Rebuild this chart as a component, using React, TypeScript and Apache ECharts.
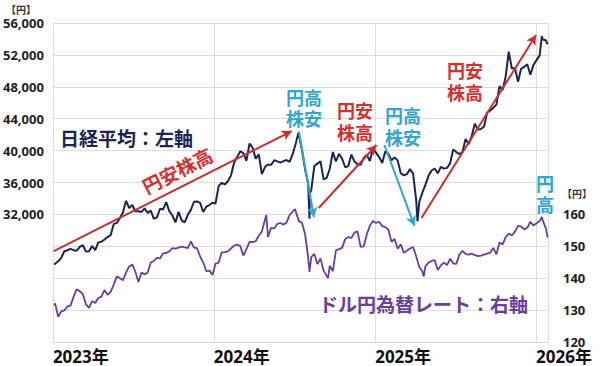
import React, { useEffect, useRef } from "react";
import * as echarts from "echarts";

// 日経平均（左軸）
const nikkeiDates: string[] = [
  "2023-01-04","2023-01-13","2023-01-20","2023-01-27","2023-02-03","2023-02-10","2023-02-17","2023-02-24",
  "2023-03-03","2023-03-10","2023-03-17","2023-03-24","2023-03-31","2023-04-07","2023-04-14","2023-04-21",
  "2023-04-28","2023-05-05","2023-05-12","2023-05-19","2023-05-26","2023-06-02","2023-06-09","2023-06-16",
  "2023-06-23","2023-06-30","2023-07-07","2023-07-14","2023-07-21","2023-07-28","2023-08-04","2023-08-11",
  "2023-08-18","2023-08-25","2023-09-01","2023-09-08","2023-09-15","2023-09-22","2023-09-29","2023-10-06",
  "2023-10-13","2023-10-20","2023-10-27","2023-11-03","2023-11-10","2023-11-17","2023-11-24","2023-12-01",
  "2023-12-08","2023-12-15","2023-12-22","2023-12-29",
  "2024-01-05","2024-01-12","2024-01-19","2024-01-26","2024-02-02","2024-02-09","2024-02-16","2024-02-22",
  "2024-03-01","2024-03-08","2024-03-15","2024-03-22","2024-03-29","2024-04-05","2024-04-12","2024-04-19",
  "2024-04-26","2024-05-02","2024-05-10","2024-05-17","2024-05-24","2024-05-31","2024-06-07","2024-06-14",
  "2024-06-21","2024-06-28","2024-07-05","2024-07-11","2024-07-19","2024-07-26","2024-08-02","2024-08-05",
  "2024-08-06","2024-08-09","2024-08-16","2024-08-23","2024-08-30","2024-09-06","2024-09-13","2024-09-20",
  "2024-09-27","2024-10-04","2024-10-11","2024-10-18","2024-10-25","2024-11-01","2024-11-08","2024-11-15",
  "2024-11-22","2024-11-29","2024-12-06","2024-12-13","2024-12-20","2024-12-27",
  "2025-01-10","2025-01-17","2025-01-24","2025-01-31","2025-02-07","2025-02-14","2025-02-21","2025-02-28",
  "2025-03-07","2025-03-14","2025-03-21","2025-03-28","2025-04-04","2025-04-07","2025-04-11","2025-04-18",
  "2025-04-25","2025-05-02","2025-05-09","2025-05-16","2025-05-23","2025-05-30","2025-06-06","2025-06-13",
  "2025-06-20","2025-06-27","2025-07-04","2025-07-11","2025-07-18","2025-07-25","2025-08-01","2025-08-08",
  "2025-08-15","2025-08-22","2025-08-29","2025-09-05","2025-09-12","2025-09-19","2025-09-26","2025-10-03",
  "2025-10-10","2025-10-17","2025-10-24","2025-10-31","2025-11-07","2025-11-14","2025-11-21","2025-11-28",
  "2025-12-05","2025-12-12","2025-12-19","2025-12-26",
  "2026-01-09","2026-01-14","2026-01-16","2026-01-23","2026-01-27",
];
const nikkeiValues: number[] = [
  25717,26119,26553,27382,27509,27670,27513,27453,
  27927,28143,27333,27385,28041,27518,28493,28564,
  28856,29157,29388,30808,30916,31524,32265,33706,
  32781,33189,32388,32391,32304,32759,32193,32473,
  31450,31624,32710,32606,33533,32402,31858,30995,
  32315,31259,30991,31950,32568,33585,33625,33432,
  32307,32970,33169,33464,
  33377,35577,35963,35751,36158,36897,38487,39098,
  39910,39688,38707,40888,40369,38992,39523,37068,
  37934,38236,38229,38787,38646,38487,38683,38814,
  38596,39583,40912,42224,40063,37667,35909,31458,
  34675,35025,38063,38364,38647,36391,36581,37723,
  39829,38635,39605,38981,37913,38053,39500,38642,
  38283,38208,39091,39470,38701,40281,
  39190,38451,39931,39572,38787,39149,38776,37155,
  36887,37053,37677,37120,33780,31136,33586,34730,
  35705,36831,37503,37753,37160,37965,37742,37834,
  38403,40150,39811,39570,39819,41456,40800,41820,
  43378,42633,42718,43019,44768,45046,45355,45770,
  48089,47582,49300,52411,50276,50377,48626,50253,
  50491,50837,49507,50750,
  51940,54341,53936,53846,53333,
];

// ドル円為替レート（右軸）
const fxDates: string[] = [
  "2023-01-04","2023-01-06","2023-01-13","2023-01-20","2023-01-27","2023-02-03","2023-02-10","2023-02-17",
  "2023-02-24","2023-03-03","2023-03-10","2023-03-17","2023-03-24","2023-03-31","2023-04-07","2023-04-14",
  "2023-04-21","2023-04-28","2023-05-05","2023-05-12","2023-05-19","2023-05-26","2023-06-02","2023-06-09",
  "2023-06-16","2023-06-23","2023-06-30","2023-07-07","2023-07-14","2023-07-21","2023-07-28","2023-08-04",
  "2023-08-11","2023-08-18","2023-08-25","2023-09-01","2023-09-08","2023-09-15","2023-09-22","2023-09-29",
  "2023-10-06","2023-10-13","2023-10-20","2023-10-27","2023-11-03","2023-11-10","2023-11-17","2023-11-24",
  "2023-12-01","2023-12-08","2023-12-15","2023-12-22","2023-12-29",
  "2024-01-05","2024-01-12","2024-01-19","2024-01-26","2024-02-02","2024-02-09","2024-02-16","2024-02-23",
  "2024-03-01","2024-03-08","2024-03-15","2024-03-22","2024-03-29","2024-04-05","2024-04-12","2024-04-19",
  "2024-04-26","2024-04-29","2024-05-03","2024-05-10","2024-05-17","2024-05-24","2024-05-31","2024-06-07",
  "2024-06-14","2024-06-21","2024-06-28","2024-07-03","2024-07-12","2024-07-19","2024-07-26","2024-08-02",
  "2024-08-05","2024-08-09","2024-08-16","2024-08-23","2024-08-30","2024-09-06","2024-09-13","2024-09-16",
  "2024-09-20","2024-09-27","2024-10-04","2024-10-11","2024-10-18","2024-10-25","2024-11-01","2024-11-08",
  "2024-11-15","2024-11-22","2024-11-29","2024-12-06","2024-12-13","2024-12-20","2024-12-27",
  "2025-01-03","2025-01-10","2025-01-17","2025-01-24","2025-01-31","2025-02-07","2025-02-14","2025-02-21",
  "2025-02-28","2025-03-07","2025-03-14","2025-03-21","2025-03-28","2025-04-04","2025-04-11","2025-04-18",
  "2025-04-21","2025-04-25","2025-05-02","2025-05-09","2025-05-16","2025-05-23","2025-05-30","2025-06-06",
  "2025-06-13","2025-06-20","2025-06-27","2025-07-04","2025-07-11","2025-07-18","2025-07-25","2025-08-01",
  "2025-08-08","2025-08-15","2025-08-22","2025-08-29","2025-09-05","2025-09-12","2025-09-19","2025-09-26",
  "2025-10-03","2025-10-10","2025-10-17","2025-10-24","2025-10-31","2025-11-07","2025-11-14","2025-11-21",
  "2025-11-28","2025-12-05","2025-12-12","2025-12-19","2025-12-26",
  "2026-01-09","2026-01-14","2026-01-16","2026-01-23","2026-01-27",
];
const fxValues: number[] = [
  131.5,132.1,127.9,129.6,129.9,131.2,131.4,134.2,
  136.5,135.9,135.0,131.8,130.7,132.8,132.2,133.8,
  134.2,136.3,134.8,135.7,138.0,140.6,140.0,139.4,
  141.8,143.7,144.3,142.1,138.8,141.8,141.2,141.8,
  144.9,145.4,146.4,146.2,147.8,147.9,148.4,149.4,
  149.3,149.6,149.9,149.7,149.4,151.5,149.6,149.4,
  146.8,144.9,142.2,142.4,141.0,
  144.6,144.9,148.1,148.2,148.4,149.3,150.2,150.5,
  150.1,147.1,149.1,151.4,151.3,151.6,153.3,154.6,
  158.3,159.8,152.9,155.8,155.6,157.0,157.3,156.8,
  157.4,159.8,160.9,161.7,157.9,157.4,153.8,146.5,
  142.0,146.6,147.6,144.4,146.2,142.3,140.8,140.0,
  143.9,142.2,148.7,149.1,149.5,152.3,152.9,152.6,
  154.3,154.7,149.8,150.0,153.7,156.4,157.9,
  157.3,157.7,156.3,156.0,155.2,151.4,152.3,149.2,
  150.6,148.0,148.6,149.3,149.8,146.9,143.5,142.2,
  140.5,143.7,144.9,145.4,145.7,142.6,144.0,144.9,
  144.1,146.1,144.6,144.5,147.4,148.6,147.6,147.4,
  147.7,147.2,146.9,147.1,147.4,147.7,148.0,149.5,
  147.5,151.2,150.6,152.9,154.0,153.4,154.6,156.4,
  156.2,155.3,155.8,157.7,156.5,
  157.9,159.2,158.1,155.7,152.8,
];

// 軸の目盛り
const leftTicks = { min: 16000, max: 56000, interval: 4000, labelFrom: 32000 };
const rightTicks = { min: 120, max: 220, interval: 10, labelTo: 160 };

// 矢印（データ座標, 左軸）
const arrowStarts: [string, number][] = [
  ["2023-01-03", 27400],
  ["2024-07-12", 42400],
  ["2024-08-26", 32800],
  ["2025-01-22", 40700],
  ["2025-04-16", 31550],
];
const arrowEnds: [string, number][] = [
  ["2024-06-26", 42450],
  ["2024-08-15", 31650],
  ["2025-01-04", 40700],
  ["2025-03-31", 30550],
  ["2026-01-01", 54500],
];
const arrowKinds: string[] = ["up", "down", "up", "down", "up"];

const RED = "#c9302c";
const RED_TXT = "#d5302e";
const CYAN = "#2ea6cf";
const NAVY = "#1b2553";
const PURPLE = "#6b3d9c";
const CJK = "'Noto Sans CJK JP', 'Noto Sans', sans-serif";
const NUM = "'Noto Sans', 'Noto Sans CJK JP', sans-serif";

export default function App() {
  const ref = useRef<HTMLDivElement>(null);
  useEffect(() => {
    if (!ref.current) return;
    const chart = echarts.init(ref.current, undefined, { renderer: "svg" });
    const nikkeiData = nikkeiDates.map((d, i) => [d, nikkeiValues[i]]);
    const fxData = fxDates.map((d, i) => [d, fxValues[i]]);
    const arrowData = arrowStarts.map((s, i) => [
      { coord: s, lineStyle: { color: arrowKinds[i] === "up" ? RED : CYAN, width: 2, type: "solid" } },
      { coord: arrowEnds[i] },
    ]);

    const txt = (text: string, x: number, y: number, fill: string, size = 18, extra: any = {}) => ({
      type: "text",
      x,
      y,
      style: {
        text,
        fill,
        font: `bold ${size}px ${CJK}`,
        textAlign: "center",
        textVerticalAlign: "middle",
        ...extra,
      },
      z: 100,
    });

    chart.setOption({
      animation: false,
      backgroundColor: "#ffffff",
      grid: { left: 52, right: 52, top: 23, bottom: 24, containLabel: false },
      xAxis: {
        type: "time",
        min: "2023-01-01",
        max: "2026-01-28",
        minInterval: 365 * 24 * 3600 * 1000,
        axisLine: { show: true, lineStyle: { color: "#d9d9d9" } },
        axisTick: { show: false },
        splitLine: { show: true, lineStyle: { color: "#dcdcdc" } },
        axisLabel: {
          formatter: "{yyyy}年",
          align: "left",
          fontSize: 17,
          lineHeight: 17,
          fontWeight: "bold",
          fontFamily: NUM,
          color: "#111",
          margin: 6,
          showMinLabel: true,
          showMaxLabel: false,
          hideOverlap: false,
        },
      },
      yAxis: [
        {
          type: "value",
          min: leftTicks.min,
          max: leftTicks.max,
          interval: leftTicks.interval,
          axisLine: { show: false },
          axisTick: { show: false },
          splitLine: { show: true, lineStyle: { color: "#dcdcdc" } },
          axisLabel: {
            formatter: (v: number) => (v >= leftTicks.labelFrom ? v.toLocaleString("en-US") : ""),
            fontSize: 13,
            fontWeight: "bold",
            fontFamily: NUM,
            color: "#222",
            margin: 9,
          },
        },
        {
          type: "value",
          position: "right",
          min: rightTicks.min,
          max: rightTicks.max,
          interval: rightTicks.interval,
          axisLine: { show: false },
          axisTick: { show: false },
          splitLine: { show: false },
          axisLabel: {
            formatter: (v: number) => (v <= rightTicks.labelTo ? String(v) : ""),
            fontSize: 13,
            lineHeight: 13,
            fontWeight: "bold",
            fontFamily: NUM,
            color: "#222",
            margin: 15,
          },
        },
      ],
      series: [
        {
          name: "ドル円為替レート",
          type: "line",
          yAxisIndex: 1,
          data: fxData,
          showSymbol: false,
          lineStyle: { color: PURPLE, width: 1.8 },
          itemStyle: { color: PURPLE },
          z: 3,
        },
        {
          name: "日経平均",
          type: "line",
          yAxisIndex: 0,
          data: nikkeiData,
          showSymbol: false,
          lineStyle: { color: NAVY, width: 2 },
          itemStyle: { color: NAVY },
          z: 4,
          markLine: {
            silent: true,
            symbol: ["none", "arrow"],
            symbolSize: [8, 10],
            label: { show: false },
            data: arrowData,
            z: 5,
          },
        },
      ],
      graphic: [
        txt("【円】", 21, 9, "#333", 10),
        txt("【円】", 577, 193, "#333", 10),
        txt("日経平均：左軸", 60, 137, NAVY, 19, { textAlign: "left" }),
        txt("ドル円為替レート：右軸", 319, 303, PURPLE, 19, { textAlign: "left" }),
        {
          type: "text",
          x: 177,
          y: 170,
          rotation: (27 * Math.PI) / 180,
          style: {
            text: "円安株高",
            fill: RED_TXT,
            font: `bold 19px ${CJK}`,
            textAlign: "center",
            textVerticalAlign: "middle",
          },
          z: 100,
        },
        txt("円高\n株安", 304, 107, CYAN, 18, { lineHeight: 21 }),
        txt("円安\n株高", 355, 121, RED_TXT, 18, { lineHeight: 22 }),
        txt("円高\n株安", 403, 126, CYAN, 18, { lineHeight: 22 }),
        txt("円安\n株高", 465, 81, RED_TXT, 18, { lineHeight: 22 }),
        txt("円\n高", 545, 193, CYAN, 18, { lineHeight: 21 }),
      ],
    });
    return () => chart.dispose();
  }, []);
  return <div ref={ref} style={{ width: 600, height: 366, position: "absolute", left: 0, top: 0 }} />;
}
